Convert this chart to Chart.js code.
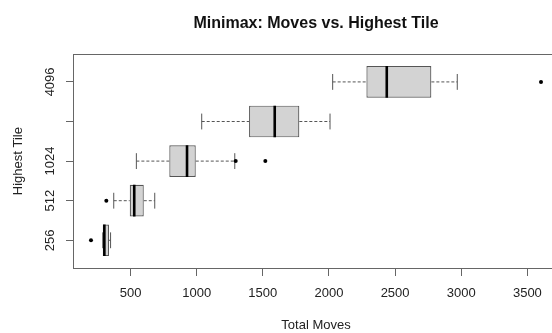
<!DOCTYPE html>
<html>
<head>
<meta charset="utf-8">
<script src="https://cdn.jsdelivr.net/npm/chart.js@4"></script>
<style>
  html, body { margin: 0; padding: 0; background: #fff; overflow: hidden; }
  #wrap { position: relative; width: 570px; height: 333px; }
</style>
</head>
<body>
<div id="wrap"><canvas id="c"></canvas></div>
<script>
// Highest tile reached per game, and the five-number summary of total moves
const tiles = ['256', '512', '1024', '2048', '4096'];
const yTickLabels = ['256', '512', '1024', '', '4096'];
const lowerWhisker = [290, 373, 544, 1038, 2028];
const q1 = [290, 494, 793, 1396, 2283];
const median = [302, 528, 927, 1590, 2437];
const q3 = [337, 600, 993, 1776, 2774];
const upperWhisker = [349, 683, 1288, 2008, 2970];
const outliers = [[201], [317], [1295, 1519], [], [3603]];
const xTicks = [500, 1000, 1500, 2000, 2500, 3000, 3500];

const FONT = "'Liberation Sans', Arial, Helvetica, sans-serif";
Chart.defaults.font.family = FONT;
Chart.defaults.color = '#222';

const pos = tiles.map((t, i) => i + 1);
const HALF_BOX = 0.4;
const HALF_STAPLE = 0.2;
const LINE = '#555';

function segment(a, b, opts) {
  return Object.assign({
    type: 'line',
    data: [a, b],
    borderColor: LINE,
    borderWidth: 1,
    pointRadius: 0,
    fill: false,
    order: 1
  }, opts || {});
}

const datasets = [];

// boxes: interquartile range
datasets.push({
  type: 'bar',
  data: pos.map((p, i) => ({ y: p, x: [q1[i], q3[i]] })),
  backgroundColor: '#D3D3D3',
  borderColor: LINE,
  borderWidth: 1.2,
  borderSkipped: false,
  barPercentage: 0.8,
  categoryPercentage: 1,
  order: 3
});

// whiskers and staples
pos.forEach((p, i) => {
  datasets.push(segment({ x: lowerWhisker[i], y: p }, { x: q1[i], y: p }, { borderDash: [3, 2] }));
  datasets.push(segment({ x: q3[i], y: p }, { x: upperWhisker[i], y: p }, { borderDash: [3, 2] }));
  datasets.push(segment({ x: lowerWhisker[i], y: p - HALF_STAPLE }, { x: lowerWhisker[i], y: p + HALF_STAPLE }));
  datasets.push(segment({ x: upperWhisker[i], y: p - HALF_STAPLE }, { x: upperWhisker[i], y: p + HALF_STAPLE }));
});

// medians
pos.forEach((p, i) => {
  datasets.push(segment({ x: median[i], y: p - HALF_BOX }, { x: median[i], y: p + HALF_BOX },
    { borderColor: '#000', borderWidth: 2.6, order: 0 }));
});

// outliers
datasets.push({
  type: 'scatter',
  data: outliers.flatMap((vals, i) => vals.map(v => ({ x: v, y: pos[i] }))),
  pointRadius: 2,
  pointBackgroundColor: '#000',
  pointBorderWidth: 0,
  order: 0
});

new Chart(document.getElementById('c'), {
  type: 'bar',
  data: { datasets },
  options: {
    indexAxis: 'y',
    responsive: true,
    maintainAspectRatio: false,
    animation: false,
    layout: { padding: { top: 0, right: 11, bottom: 0, left: 0 } },
    plugins: {
      legend: { display: false },
      tooltip: { enabled: false },
      title: {
        display: true,
        text: 'Minimax: Moves vs. Highest Tile',
        fullSize: false,
        color: '#111',
        font: { size: 16, weight: 'bold' },
        padding: { top: 14, bottom: 21 }
      }
    },
    scales: {
      x: {
        type: 'linear',
        position: 'bottom',
        min: 65,
        max: 3739,
        afterBuildTicks: s => { s.ticks = xTicks.map(v => ({ value: v })); },
        afterFit: s => { s.height = 65; },
        ticks: {
          callback: v => String(v),
          font: { size: 13 },
          padding: 10,
          maxRotation: 0,
          autoSkip: false,
          color: '#222'
        },
        grid: { drawOnChartArea: false, drawTicks: true, tickLength: 8, color: '#666', tickColor: '#666' },
        border: { display: true, color: '#666', width: 1 },
        title: { display: true, text: 'Total Moves', font: { size: 13 }, color: '#222', padding: { top: 0, bottom: 0 } }
      },
      xTop: {
        type: 'linear',
        position: 'top',
        min: 65,
        max: 3739,
        afterFit: s => { s.height = 0; },
        ticks: { display: false },
        grid: { display: false, drawTicks: false },
        border: { display: true, color: '#666', width: 1 }
      },
      y: {
        type: 'linear',
        position: 'left',
        min: 0.3,
        max: 5.7,
        offset: false,
        afterBuildTicks: s => { s.ticks = pos.map(v => ({ value: v })); },
        afterFit: s => { s.width = 73; },
        ticks: {
          callback: (v, i) => yTickLabels[i],
          minRotation: 90,
          maxRotation: 90,
          crossAlign: 'center',
          padding: 1.5,
          autoSkip: false,
          font: { size: 13 },
          color: '#222'
        },
        grid: { offset: false, drawOnChartArea: false, drawTicks: true, tickLength: 7, color: '#666', tickColor: '#666' },
        border: { display: true, color: '#666', width: 1 },
        title: { display: true, text: 'Highest Tile', font: { size: 13 }, color: '#222', padding: { top: 11, bottom: 0 } }
      }
    }
  }
});
</script>
</body>
</html>
